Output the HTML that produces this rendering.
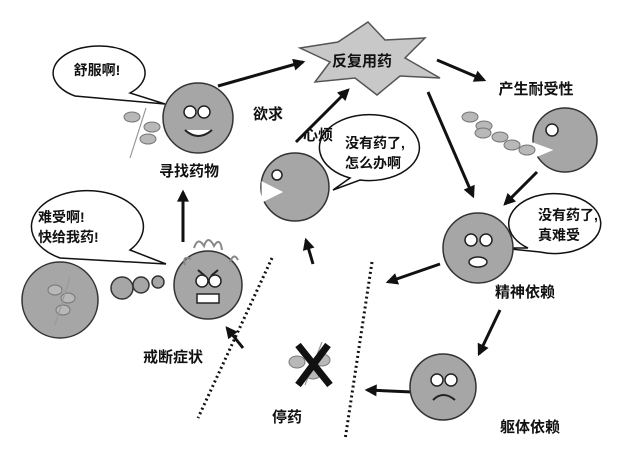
<!DOCTYPE html>
<html><head><meta charset="utf-8"><style>
html,body{margin:0;padding:0;background:#fff;}
svg{display:block;}
text{font-family:"Liberation Sans","Noto Sans CJK SC",sans-serif;fill:#111;}
.b{font-weight:bold;font-size:15px;}
.s{font-size:14px;font-weight:bold;}
</style></head><body>
<svg width="640" height="455" viewBox="0 0 640 455">
<defs>
<marker id="ah" viewBox="0 0 10 10" refX="8" refY="5" markerWidth="14" markerHeight="12" orient="auto" markerUnits="userSpaceOnUse"><path d="M0,0 L10,5 L0,10 z" fill="#111"/></marker></defs>
<g stroke="#111" stroke-width="3" marker-end="url(#ah)">
<line x1="218" y1="86" x2="303" y2="62"/>
<line x1="437" y1="60" x2="484" y2="80"/>
<line x1="428" y1="92" x2="473" y2="196"/>
<line x1="537" y1="172" x2="505" y2="204"/>
<line x1="296" y1="142" x2="348" y2="90"/>
<line x1="440" y1="264" x2="388" y2="282"/>
<line x1="500" y1="310" x2="479" y2="354"/>
<line x1="412" y1="392" x2="367" y2="390"/>
<line x1="313" y1="264" x2="306" y2="240"/>
<line x1="183" y1="242" x2="183" y2="192"/>
<line x1="243" y1="348" x2="227" y2="328"/>
</g>
<g stroke="#111" stroke-width="3" stroke-dasharray="2 3">
<line x1="272" y1="258" x2="198" y2="418"/>
<line x1="372" y1="262" x2="345" y2="440"/>
</g>
<polygon points="368,22 385,40 425,38 405,58 440,78 400,76 377,95 355,78 315,82 330,62 300,48 338,42" fill="#c8c8c8" stroke="#555" stroke-width="1.5"/>
<text x="362" y="66" class="b" text-anchor="middle">反复用药</text>
<g fill="#fff" stroke="#111" stroke-width="1.5">
<path d="M75,96 A46,27 0 1 1 130,93 L165,104 Z"/>
<path d="M60,258 A56,36 0 1 1 130,250 L166,264 Z"/>
<path d="M360,180 A50,33 0 1 0 350,178 L333,190 Z"/>
<path d="M540,252 A46,30 0 1 0 528,248 L500,248 Z"/>
</g>
<text x="97" y="75" class="s" text-anchor="middle">舒服啊!</text>
<text x="38" y="222" class="s">难受啊!</text>
<text x="38" y="242" class="s">快给我药!</text>
<text x="345" y="148" class="s">没有药了,</text>
<text x="345" y="168" class="s">怎么办啊</text>
<text x="538" y="220" class="s">没有药了,</text>
<text x="538" y="240" class="s">真难受</text>
<g fill="#a6a6a6" stroke="#333" stroke-width="1.5">
<circle cx="198" cy="118" r="35"/>
<circle cx="565" cy="140" r="32"/>
<circle cx="295" cy="187" r="34"/>
<circle cx="478" cy="248" r="35"/>
<circle cx="443" cy="387" r="33"/>
<circle cx="60" cy="300" r="38"/>
<circle cx="208" cy="285" r="34"/>
<circle cx="122" cy="288" r="11"/>
<circle cx="141" cy="285" r="8"/>
<circle cx="158" cy="282" r="6"/>
</g>
<path d="M262,182 L282,192 L262,202 Z" fill="#fff" stroke="#fff"/>
<path d="M533,143 L552,150 L533,158 Z" fill="#fff" stroke="#fff"/>
<g fill="#fff" stroke="#222" stroke-width="1.5">
<circle cx="190" cy="112" r="6"/><circle cx="204" cy="112" r="6"/>
<circle cx="552" cy="130" r="6"/>
<circle cx="277" cy="175" r="5"/>
<circle cx="471" cy="240" r="6"/><circle cx="486" cy="240" r="6"/>
<ellipse cx="478" cy="262" rx="9" ry="5"/>
<circle cx="437" cy="380" r="6"/><circle cx="451" cy="380" r="6"/>
<circle cx="202" cy="281" r="6"/><circle cx="215" cy="281" r="6"/>
<rect x="197" y="294" width="22" height="9"/>
</g>
<path d="M185,130 Q198,142 212,130" fill="#fff" stroke="#222" stroke-width="2"/>
<path d="M433,400 Q443,390 455,400" fill="none" stroke="#222" stroke-width="2"/>
<path d="M198,270 L205,276 M218,270 L211,276" stroke="#222" stroke-width="2"/>
<path d="M194,248 q4,-12 10,-2 q4,-12 10,0 q6,-10 8,4 M185,265 q-3,-10 6,-6 M230,262 q4,-10 8,-2" stroke="#888" stroke-width="2" fill="none"/>
<g fill="#b8b8b8" stroke="#777">
<ellipse cx="132" cy="117" rx="8" ry="5"/><ellipse cx="152" cy="127" rx="8" ry="5"/><ellipse cx="148" cy="139" rx="8" ry="5"/>
<ellipse cx="470" cy="117" rx="8" ry="5"/><ellipse cx="484" cy="126" rx="8" ry="5"/><ellipse cx="483" cy="133" rx="8" ry="5"/><ellipse cx="500" cy="137" rx="8" ry="5"/><ellipse cx="512" cy="145" rx="8" ry="5"/><ellipse cx="527" cy="150" rx="8" ry="5"/>
<ellipse cx="55" cy="290" rx="7" ry="5"/><ellipse cx="68" cy="298" rx="7" ry="5"/><ellipse cx="63" cy="310" rx="7" ry="5"/>
<ellipse cx="297" cy="362" rx="8" ry="6"/><ellipse cx="322" cy="360" rx="8" ry="6"/><ellipse cx="313" cy="373" rx="8" ry="6"/>
</g>
<g stroke="#999" stroke-width="1.2">
<line x1="146" y1="108" x2="130" y2="158"/>
<line x1="70" y1="277" x2="55" y2="325"/>
<line x1="322" y1="342" x2="305" y2="385"/>
</g>
<path d="M298,345 L330,385 M328,345 L298,385" stroke="#111" stroke-width="7"/>
<text x="189" y="176" class="b" text-anchor="middle">寻找药物</text>
<text x="536" y="94" class="b" text-anchor="middle">产生耐受性</text>
<text x="268" y="119" class="b" text-anchor="middle">欲求</text>
<text x="318" y="140" class="b" text-anchor="middle">心烦</text>
<text x="525" y="297" class="b" text-anchor="middle">精神依赖</text>
<text x="530" y="432" class="b" text-anchor="middle">躯体依赖</text>
<text x="287" y="422" class="b" text-anchor="middle">停药</text>
<text x="173" y="362" class="b" text-anchor="middle">戒断症状</text>
</svg>
</body></html>
